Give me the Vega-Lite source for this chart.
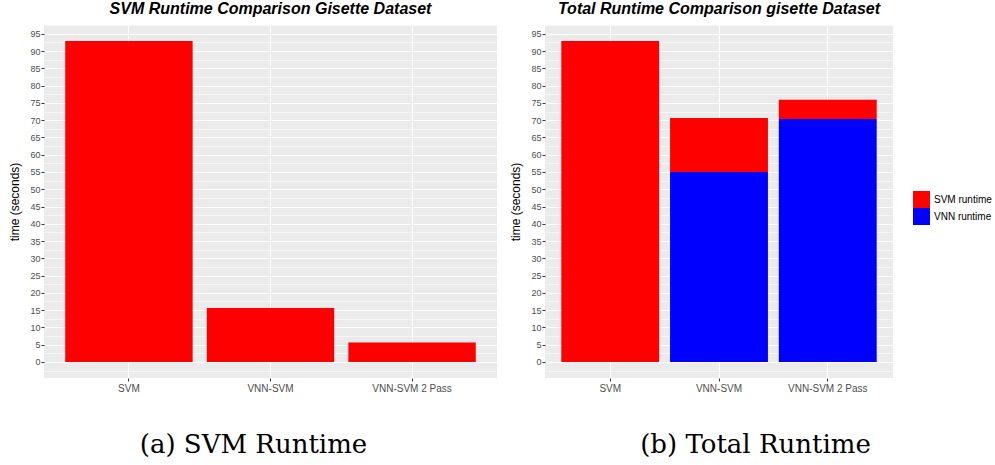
{
  "$schema": "https://vega.github.io/schema/vega-lite/v6.json",
  "padding": {"left": 8, "top": 1, "right": 0, "bottom": 0},
  "background": "white",
  "datasets": {
    "runtime": [
      {"method": "SVM", "component": "SVM runtime", "seconds": 92.9},
      {"method": "VNN-SVM", "component": "SVM runtime", "seconds": 15.6},
      {"method": "VNN-SVM", "component": "VNN runtime", "seconds": 55.0},
      {"method": "VNN-SVM 2 Pass", "component": "SVM runtime", "seconds": 5.6},
      {"method": "VNN-SVM 2 Pass", "component": "VNN runtime", "seconds": 70.3}
    ]
  },
  "config": {
    "view": {"fill": "#EBEBEB", "stroke": null},
    "font": "Liberation Sans",
    "title": {"frame": "group", "anchor": "middle", "fontSize": 16, "fontStyle": "italic", "fontWeight": "bold", "offset": 4, "color": "black"},
    "axisX": {
      "labelAngle": 0, "grid": true, "gridColor": "white", "gridWidth": 1.1, "bandPosition": 0.5,
      "domain": false, "tickColor": "#333333", "tickSize": 3, "labelFontSize": 10, "labelColor": "#4D4D4D", "labelPadding": 2,
      "titleFont": "DejaVu Serif", "titleFontSize": 26, "titleFontWeight": "normal", "titleColor": "black",
      "titleY": 66, "titleBaseline": "middle"
    },
    "axisY": {
      "labelOverlap": false,
      "gridColor": "white",
      "domain": false, "tickColor": "#333333", "tickSize": 3, "labelPadding": 1,
      "labelFontSize": 9, "labelColor": "#4D4D4D",
      "titleFontSize": 12, "titleFontWeight": "normal", "titleColor": "black", "titlePadding": 8
    }
  },
  "spacing": 12,
  "hconcat": [
    {
      "width": 453,
      "height": 353,
      "title": {"text": "SVM Runtime Comparison Gisette Dataset"},
      "data": {"name": "runtime"},
      "transform": [{"filter": "datum.component === 'SVM runtime'"}],
      "mark": {"type": "bar", "color": "#FF0000"},
      "encoding": {
        "x": {
          "field": "method", "type": "nominal",
          "sort": ["SVM", "VNN-SVM", "VNN-SVM 2 Pass"],
          "scale": {"paddingInner": 0.1, "paddingOuter": 0.15},
          "axis": {"title": "(a) SVM Runtime", "titleX": 209}
        },
        "y": {
          "field": "seconds", "type": "quantitative",
          "scale": {"domain": [-4.65, 97.55], "nice": false, "zero": false},
          "axis": {
            "title": "time (seconds)",
            "values": [-2.5, 0, 2.5, 5, 7.5, 10, 12.5, 15, 17.5, 20, 22.5, 25, 27.5, 30, 32.5, 35, 37.5, 40, 42.5, 45, 47.5, 50, 52.5, 55, 57.5, 60, 62.5, 65, 67.5, 70, 72.5, 75, 77.5, 80, 82.5, 85, 87.5, 90, 92.5, 95, 97.5],
            "format": "d",
            "labelExpr": "datum.value % 5 === 0 ? datum.label : ''",
            "gridWidth": {"condition": {"test": "datum.value % 5 === 0", "value": 1.1}, "value": 0.55},
            "tickOpacity": {"condition": {"test": "datum.value % 5 === 0", "value": 1}, "value": 0}
          }
        }
      }
    },
    {
      "width": 348,
      "height": 353,
      "title": {"text": "Total Runtime Comparison gisette Dataset"},
      "data": {"name": "runtime"},
      "mark": {"type": "bar"},
      "encoding": {
        "x": {
          "field": "method", "type": "nominal",
          "sort": ["SVM", "VNN-SVM", "VNN-SVM 2 Pass"],
          "scale": {"paddingInner": 0.1, "paddingOuter": 0.15},
          "axis": {"title": "(b) Total Runtime", "titleX": 210}
        },
        "y": {
          "field": "seconds", "type": "quantitative",
          "scale": {"domain": [-4.65, 97.55], "nice": false, "zero": false},
          "axis": {
            "title": "time (seconds)",
            "values": [-2.5, 0, 2.5, 5, 7.5, 10, 12.5, 15, 17.5, 20, 22.5, 25, 27.5, 30, 32.5, 35, 37.5, 40, 42.5, 45, 47.5, 50, 52.5, 55, 57.5, 60, 62.5, 65, 67.5, 70, 72.5, 75, 77.5, 80, 82.5, 85, 87.5, 90, 92.5, 95, 97.5],
            "format": "d",
            "labelExpr": "datum.value % 5 === 0 ? datum.label : ''",
            "gridWidth": {"condition": {"test": "datum.value % 5 === 0", "value": 1.1}, "value": 0.55},
            "tickOpacity": {"condition": {"test": "datum.value % 5 === 0", "value": 1}, "value": 0}
          }
        },
        "color": {
          "field": "component", "type": "nominal",
          "scale": {"domain": ["SVM runtime", "VNN runtime"], "range": ["#FF0000", "#0000FF"]},
          "legend": {
            "title": null, "orient": "none", "legendX": 368, "legendY": 166,
            "symbolType": "square", "symbolSize": 289, "symbolStrokeWidth": 0, "symbolOpacity": 1,
            "rowPadding": 0, "labelFontSize": 10, "labelColor": "black", "labelOffset": 4, "padding": 0
          }
        },
        "order": {"field": "component", "sort": "descending"}
      }
    }
  ],
  "resolve": {"legend": {"color": "independent"}}
}
